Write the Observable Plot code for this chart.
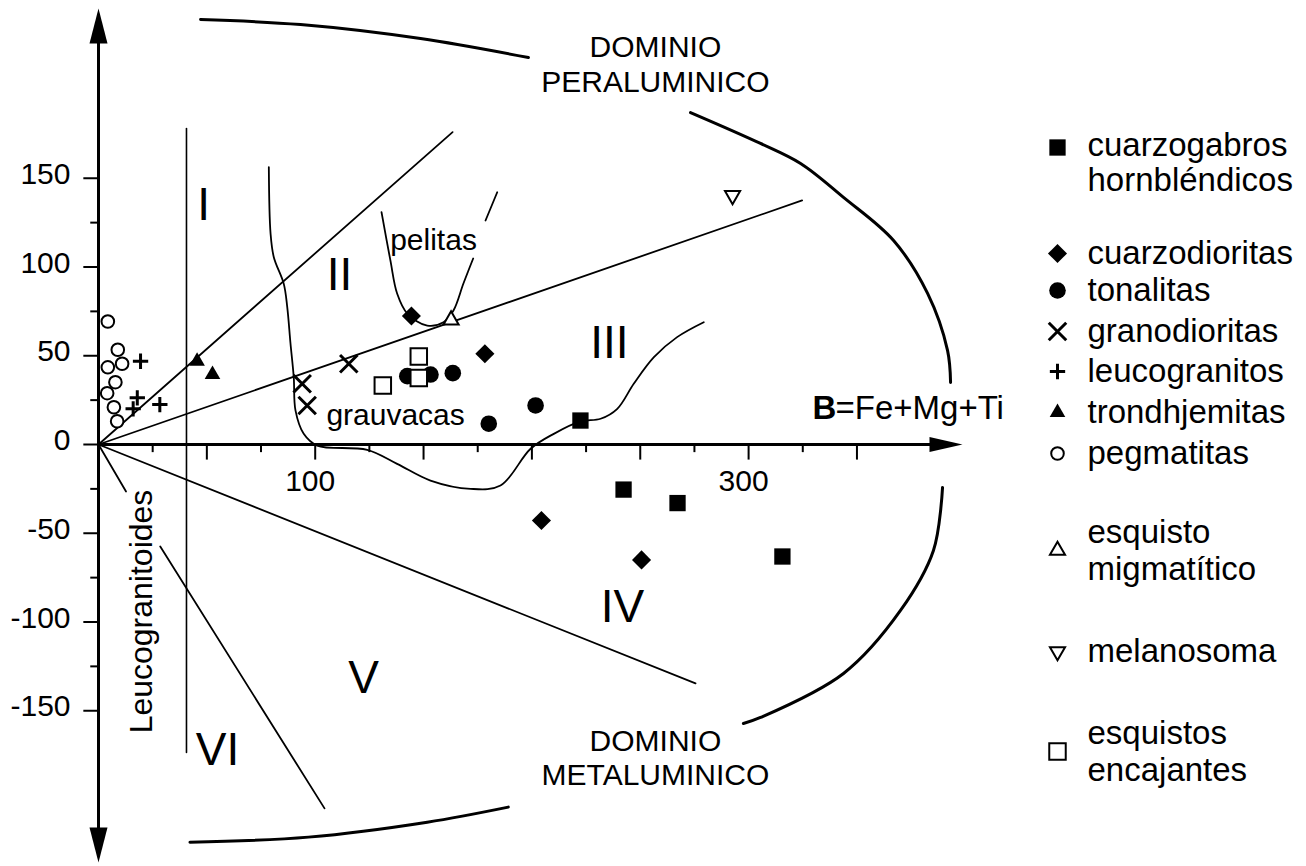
<!DOCTYPE html>
<html>
<head>
<meta charset="utf-8">
<script src="https://cdn.jsdelivr.net/npm/d3@7"></script>
<script src="https://cdn.jsdelivr.net/npm/@observablehq/plot@0.6"></script>
<style>
  html, body { margin: 0; padding: 0; background: #fff; }
  #chart { width: 1306px; height: 866px; }
</style>
</head>
<body>
<div id="chart"></div>
<script>
// ---------------- DATA (x = B = Fe+Mg+Ti, y = A) ----------------
const cuarzogabros        = [[222.4, 13.5], [242.3, -25.4], [267.2, -33.0], [315.6, -63.1]];
const cuarzodioritas      = [[144.4, 72.4], [178.3, 51.1], [204.4, -42.8], [250.6, -65.0]];
const tonalitas           = [[142.5, 38.5], [153.2, 39.4], [163.5, 40.2], [201.7, 22.0], [180.1, 11.7]];
const granodioritas       = [[115.5, 45.5], [94.0, 34.2], [96.3, 22.0]];
const leucogranitos       = [[19.4, 46.9], [17.9, 26.3], [16.0, 20.1], [28.3, 22.5]];
const trondhjemitas       = [[45.5, 46.9], [52.6, 39.4]];
const pegmatitas          = [[4.3, 69.3], [8.9, 53.4], [4.3, 43.5], [10.9, 45.5], [7.8, 35.1], [4.0, 28.9], [7.1, 21.0], [8.6, 13.1]];
const esquistoMigmatitico = [[162.7, 70.1]];
const melanosoma          = [[292.6, 140.3]];
const esquistosEncajantes = [[147.8, 49.6], [147.8, 37.4], [131.2, 33.2]];

// field boundaries
const lineVertical   = [[40.6, 178], [40.6, -173.5]];
const lineI_II       = [[0, 0], [163.4, 176]];
const lineII_III     = [[0, 0], [324.7, 137.5]];
const lineIV_V       = [[0, 0], [275.5, -134.6]];
const lineV_VIa      = [[0, 0], [12.7, -26.5]];
const lineV_VIb      = [[28.5, -57.5], [104.3, -205]];
const curvePelitas   = [[130.6, 130.9], [134.7, 103.7], [137.8, 85.1], [142.5, 73.8], [151.7, 67.0], [159.2, 68.9], [163.8, 75.5], [168.4, 90.7], [172.9, 104.8]];
const curvePelitas2  = [[178.6, 126.2], [184.0, 142.1]];
const curveGrauvacas = [[78.6, 156.2], [79.4, 118.9], [80.9, 105.5], [85.5, 90.5], [87.1, 77.4], [88.6, 56.9], [90.1, 37.9], [90.9, 19.2], [94.7, 6.0], [100.9, -0.6], [124.0, -3.0], [137.8, -10.9], [153.2, -20.3], [171.7, -25.0], [185.5, -23.1], [199.4, -2.4], [210.1, 6.0], [222.4, 13.0], [231.7, 14.5], [239.4, 20.1], [247.0, 34.2], [256.3, 49.2], [267.0, 60.5], [279.3, 68.9]];
const arcTop         = [[47.1, 239.4], [93.2, 236.6], [148.6, 228.7], [198.4, 218.0]];
const arcRightTop    = [[273.2, 187.0], [305.5, 169.6], [324.0, 158.3], [343.8, 139.2], [366.9, 114.9], [382.6, 85.1], [391.8, 53.0], [393.2, 34.9]];
const arcRightBottom = [[389.5, -24.2], [385.3, -59.7], [370.1, -93.5], [343.8, -129.0], [305.5, -153.8], [297.6, -157.2]];
const arcBottom      = [[42.2, -224.1], [96.9, -221.2], [151.7, -212.8], [189.1, -204.3]];

// axes
const xTicks = [25, 50, 75, 100, 125, 150, 175, 200, 225, 250, 275, 300, 325, 350];
const xTickLabels = [100, 300];
const yTicks = [-150, -125, -100, -75, -50, -25, 0, 25, 50, 75, 100, 125, 150];
const yTickLabels = [-150, -100, -50, 0, 50, 100, 150];
const xAxisEnd = 398.7, yAxisTop = 245.6, yAxisBottom = -235.5;

// annotations
const regionLabels = [
  {t: "I",   x: 48.5,  y: 134.6},
  {t: "II",  x: 111.2, y: 95.2},
  {t: "III", x: 235.8, y: 56.9},
  {t: "IV",  x: 241.8, y: -91.8},
  {t: "V",   x: 122.3, y: -131.8},
  {t: "VI",  x: 54.9,  y: -172.4}
];
const fieldLabels = [
  {t: "DOMINIO",      x: 257.0, y: 223.7},
  {t: "PERALUMINICO", x: 257.0, y: 203.9},
  {t: "DOMINIO",      x: 257.0, y: -167.3},
  {t: "METALUMINICO", x: 257.0, y: -186.5},
  {t: "pelitas",      x: 154.6, y: 114.9},
  {t: "grauvacas",    x: 137.1, y: 16.3}
];

// legend
const legendNames = [
  ["cuarzogabros", "hornbléndicos"],
  ["cuarzodioritas"],
  ["tonalitas"],
  ["granodioritas"],
  ["leucogranitos"],
  ["trondhjemitas"],
  ["pegmatitas"],
  ["esquisto", "migmatítico"],
  ["melanosoma"],
  ["esquistos", "encajantes"]
];

// ---------------- LAYOUT ----------------
const W = 1306, H = 866;
const X0 = 98, KX = 2.167, Y0 = 444, KY = 1.775;
const px2x = px => (px - X0) / KX;
const py2y = py => (Y0 - py) / KY;
const FONT = "'Liberation Sans', Arial, Helvetica, sans-serif";

const styles = [
  {pts: cuarzogabros,        symbol: "square",   fill: "black", stroke: "none",  sw: 0, r: 9.2},
  {pts: cuarzodioritas,      symbol: "diamond2", fill: "black", stroke: "none",  sw: 0, r: 8.6},
  {pts: tonalitas,           symbol: "circle",   fill: "black", stroke: "none",  sw: 0, r: 8.3},
  {pts: granodioritas,       symbol: "times",    fill: "none",  stroke: "black", sw: 3, r: 8},
  {pts: leucogranitos,       symbol: "plus",     fill: "none",  stroke: "black", sw: 3, r: 5},
  {pts: trondhjemitas,       symbol: "triangle", fill: "black", stroke: "none",  sw: 0, r: 5.8},
  {pts: pegmatitas,          symbol: "circle",   fill: "white", stroke: "black", sw: 2, r: 6.3},
  {pts: esquistoMigmatitico, symbol: "triangle", fill: "white", stroke: "black", sw: 2, r: 5.6},
  {pts: melanosoma,          symbol: "triangle", fill: "white", stroke: "black", sw: 2, r: 5.6, rotate: 180},
  {pts: esquistosEncajantes, symbol: "square",   fill: "white", stroke: "black", sw: 2, r: 9.3}
];
const legendSymbolPy = [147, 253, 290, 331, 371, 412, 453, 550, 651, 751];
const legendSymbolPx = 1057, legendTextPx = 1087;

const arrowV = {draw(ctx) { ctx.moveTo(0, 0); ctx.lineTo(9, 35); ctx.lineTo(-9, 35); ctx.closePath(); }};
const arrowH = {draw(ctx) { ctx.moveTo(0, 0); ctx.lineTo(7.5, 33); ctx.lineTo(-7.5, 33); ctx.closePath(); }};

const X = d => d[0], Y = d => d[1];
const lineOpts = (sw) => ({x: X, y: Y, stroke: "black", strokeWidth: sw, curve: "linear"});
const curveOpts = (sw) => ({x: X, y: Y, stroke: "black", strokeWidth: sw, curve: "catmull-rom"});

const marks = [
  // boundaries
  Plot.line(lineVertical, lineOpts(1.6)),
  Plot.line(lineI_II, lineOpts(1.8)),
  Plot.line(lineII_III, lineOpts(1.8)),
  Plot.line(lineIV_V, lineOpts(1.8)),
  Plot.line(lineV_VIa, lineOpts(1.8)),
  Plot.line(lineV_VIb, lineOpts(1.8)),
  Plot.line(curvePelitas, curveOpts(1.8)),
  Plot.line(curvePelitas2, curveOpts(1.8)),
  Plot.line(curveGrauvacas, curveOpts(1.8)),
  Plot.line(arcTop, curveOpts(3)),
  Plot.line(arcRightTop, curveOpts(3)),
  Plot.line(arcRightBottom, curveOpts(3)),
  Plot.line(arcBottom, curveOpts(3)),

  // axes
  Plot.link([0], {x1: () => 0, x2: () => xAxisEnd - 10, y1: () => 0, y2: () => 0, stroke: "black", strokeWidth: 3}),
  Plot.link([0], {x1: () => 0, x2: () => 0, y1: () => yAxisBottom + 10, y2: () => yAxisTop - 10, stroke: "black", strokeWidth: 3}),
  Plot.link(xTicks, {x1: d => d, x2: d => d, y1: () => 0, y2: d => (d % 50 === 0 ? -8.5 : -4.3), stroke: "black", strokeWidth: 2}),
  Plot.link(yTicks, {y1: d => d, y2: d => d, x1: () => 0, x2: d => (d % 50 === 0 ? -7 : -3.8), stroke: "black", strokeWidth: 2}),
  Plot.dot([0], {x: () => 0, y: () => yAxisTop, symbol: arrowV, fill: "black", r: 5}),
  Plot.dot([0], {x: () => 0, y: () => yAxisBottom, symbol: arrowV, fill: "black", r: 5, rotate: 180}),
  Plot.dot([0], {x: () => xAxisEnd, y: () => 0, symbol: arrowH, fill: "black", r: 5, rotate: 90}),
  Plot.text(xTickLabels, {x: d => d, y: () => 0, text: d => String(d), dx: -5, dy: 37, fontSize: 30, fill: "black"}),
  Plot.text(yTickLabels, {x: () => 0, y: d => d, text: d => String(d), dx: -28, dy: -4, textAnchor: "end", fontSize: 30, fill: "black"}),
  Plot.text(["B"], {x: () => px2x(812), y: () => py2y(408), text: d => d, textAnchor: "start", fontSize: 33, fontWeight: "bold", fill: "black"}),
  Plot.text(["=Fe+Mg+Ti"], {x: () => px2x(835), y: () => py2y(408), text: d => d, textAnchor: "start", fontSize: 33, fill: "black"}),

  // annotations
  Plot.text(regionLabels, {x: "x", y: "y", text: "t", fontSize: 46, fill: "black"}),
  Plot.text(fieldLabels, {x: "x", y: "y", text: "t", fontSize: 30, fill: "black"}),
  Plot.text(["Leucogranitoides"], {x: () => px2x(141), y: () => py2y(611), text: d => d, rotate: -90, fontSize: 32, fill: "black"})
];

// data points
for (const s of styles) {
  marks.push(Plot.dot(s.pts, {x: X, y: Y, symbol: s.symbol, fill: s.fill, stroke: s.stroke, strokeWidth: s.sw, r: s.r, rotate: s.rotate || 0}));
}

// legend
styles.forEach((s, i) => {
  const py = legendSymbolPy[i];
  marks.push(Plot.dot([py], {x: () => px2x(legendSymbolPx), y: d => py2y(d), symbol: s.symbol, fill: s.fill, stroke: s.stroke, strokeWidth: s.sw, r: s.r, rotate: s.rotate || 0}));
  const lines = legendNames[i];
  const offsets = lines.length === 1 ? [0] : (i === 0 ? [-2, 33] : [-18, 19]);
  marks.push(Plot.text(lines.map((t, j) => ({t, py: py + offsets[j]})), {x: () => px2x(legendTextPx), y: d => py2y(d.py), text: "t", textAnchor: "start", fontSize: 33, fill: "black"}));
});

const chart = Plot.plot({
  width: W,
  height: H,
  x: {domain: [0, 400], range: [X0, X0 + 400 * KX], axis: null},
  y: {domain: [-200, 200], range: [Y0 + 200 * KY, Y0 - 200 * KY], axis: null},
  style: {fontFamily: FONT, background: "white", overflow: "visible"},
  marks
});
document.getElementById("chart").appendChild(chart);
</script>
</body>
</html>
